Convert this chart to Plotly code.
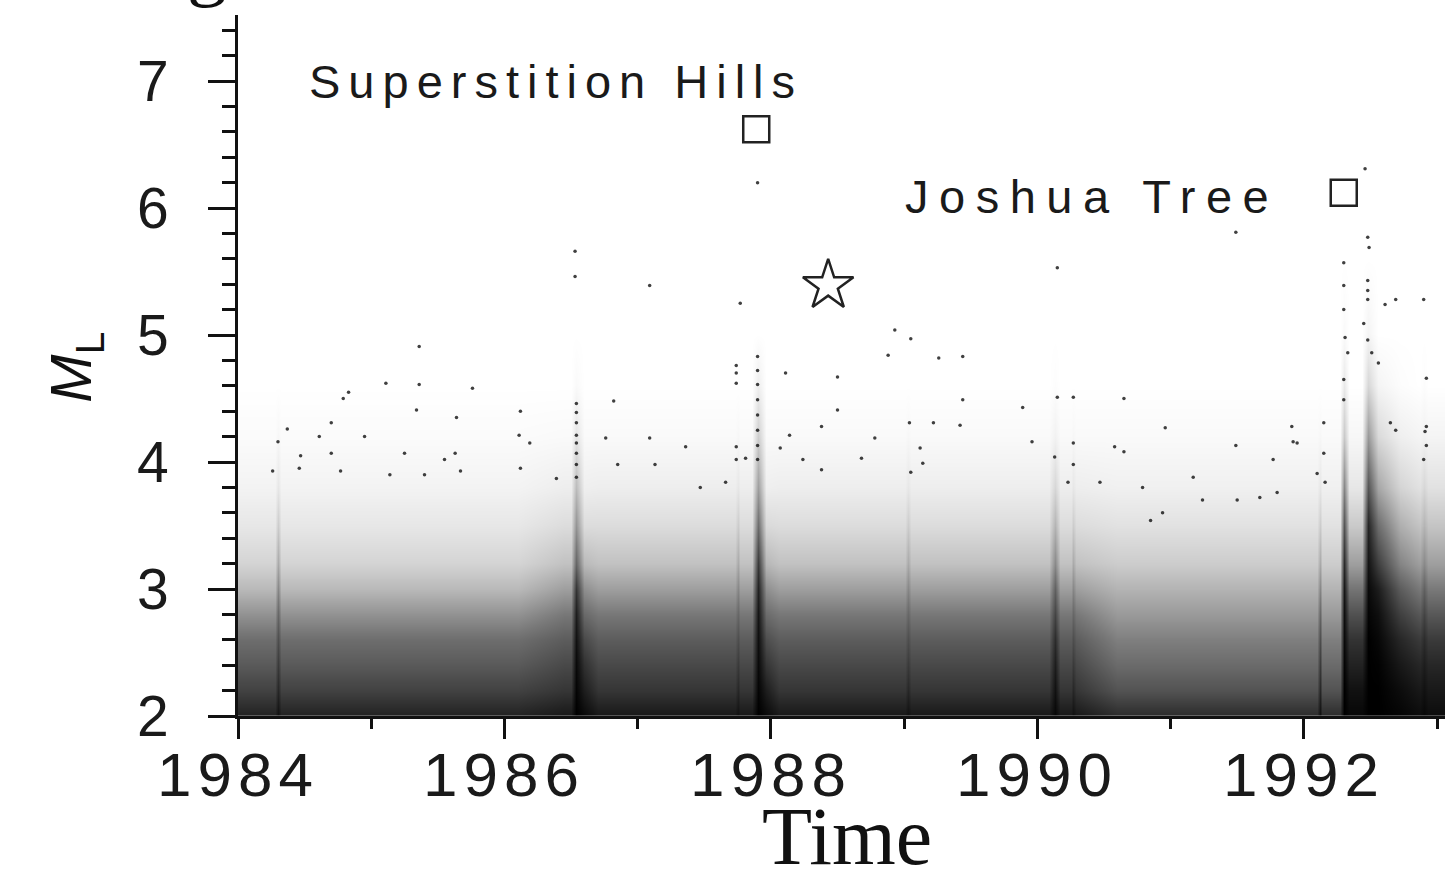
import plotly.graph_objects as go

# ---------------- data ----------------
# magnitude levels (rows of the density map)
mag_levels = [2.0, 2.2, 2.4, 2.6, 2.8, 3.0, 3.2, 3.5, 3.8, 4.2, 4.6, 5.0, 5.6]

# relative darkness of the event cloud (0 = empty, 1 = saturated) per magnitude level
bg_early      = [0.86, 0.73, 0.63, 0.55, 0.41, 0.26, 0.16, 0.09, 0.045, 0.015, 0.0, 0.0, 0.0]
bg_mid        = [0.90, 0.78, 0.70, 0.62, 0.51, 0.36, 0.23, 0.13, 0.065, 0.02, 0.0, 0.0, 0.0]
bg_light      = [0.82, 0.66, 0.56, 0.48, 0.38, 0.28, 0.19, 0.11, 0.055, 0.02, 0.0, 0.0, 0.0]
spike_weak    = [0.93, 0.84, 0.76, 0.68, 0.58, 0.45, 0.32, 0.19, 0.09, 0.03, 0.0, 0.0, 0.0]
spike_medium  = [0.97, 0.93, 0.88, 0.82, 0.72, 0.60, 0.44, 0.28, 0.15, 0.05, 0.01, 0.0, 0.0]
spike_nps     = [1.00, 0.98, 0.96, 0.93, 0.88, 0.78, 0.58, 0.40, 0.25, 0.10, 0.02, 0.0, 0.0]
tail_nps      = [0.96, 0.88, 0.80, 0.70, 0.57, 0.42, 0.26, 0.13, 0.06, 0.02, 0.0, 0.0, 0.0]
spike_sh      = [1.00, 0.98, 0.96, 0.94, 0.91, 0.86, 0.76, 0.55, 0.36, 0.18, 0.06, 0.0, 0.0]
tail_sh       = [0.96, 0.88, 0.78, 0.68, 0.56, 0.42, 0.27, 0.14, 0.06, 0.02, 0.0, 0.0, 0.0]
spike_jt      = [1.00, 1.00, 0.98, 0.96, 0.94, 0.90, 0.82, 0.65, 0.45, 0.20, 0.08, 0.02, 0.0]
tail_jt       = [0.97, 0.93, 0.86, 0.79, 0.67, 0.52, 0.36, 0.20, 0.09, 0.03, 0.0, 0.0, 0.0]
spike_landers = [1.00, 1.00, 1.00, 1.00, 0.98, 0.96, 0.92, 0.85, 0.65, 0.38, 0.15, 0.04, 0.0]
landers_tail1 = [1.00, 1.00, 0.99, 0.97, 0.94, 0.88, 0.74, 0.55, 0.33, 0.14, 0.04, 0.0, 0.0]
landers_tail2 = [0.98, 0.95, 0.90, 0.84, 0.74, 0.62, 0.46, 0.30, 0.16, 0.06, 0.01, 0.0, 0.0]
landers_tail3 = [0.95, 0.90, 0.84, 0.76, 0.64, 0.50, 0.36, 0.22, 0.11, 0.04, 0.0, 0.0, 0.0]

profiles = {
    "bg_early": bg_early, "bg_mid": bg_mid, "bg_light": bg_light,
    "spike_weak": spike_weak, "spike_medium": spike_medium,
    "spike_nps": spike_nps, "tail_nps": tail_nps,
    "spike_sh": spike_sh, "tail_sh": tail_sh,
    "spike_jt": spike_jt, "tail_jt": tail_jt,
    "spike_landers": spike_landers, "landers_tail1": landers_tail1,
    "landers_tail2": landers_tail2, "landers_tail3": landers_tail3,
}

# time columns (decimal year) and the density profile seen at each
col_times = [1984.00, 1984.20, 1984.28, 1984.30, 1984.32, 1984.60, 1985.10, 1985.60,
             1986.10, 1986.45, 1986.50, 1986.54, 1986.60, 1986.70, 1987.10, 1987.50,
             1987.73, 1987.75, 1987.77, 1987.86, 1987.90, 1987.96, 1988.06, 1988.50,
             1989.01, 1989.03, 1989.05, 1989.60, 1990.09, 1990.13, 1990.17, 1990.25,
             1990.27, 1990.29, 1990.60, 1991.20, 1991.80, 1992.10, 1992.12, 1992.14,
             1992.27, 1992.30, 1992.34, 1992.44, 1992.48, 1992.56, 1992.72, 1992.87,
             1992.90, 1992.93, 1993.10]
col_profiles = ["bg_early", "bg_early", "bg_early", "spike_weak", "bg_early", "bg_early", "bg_early", "bg_early",
                "bg_early", "bg_mid", "bg_mid", "spike_nps", "tail_nps", "bg_mid", "bg_mid", "bg_mid",
                "bg_mid", "spike_weak", "bg_mid", "bg_mid", "spike_sh", "tail_sh", "bg_mid", "bg_mid",
                "bg_mid", "spike_weak", "bg_mid", "bg_mid", "bg_mid", "spike_medium", "bg_mid", "bg_mid",
                "spike_weak", "bg_mid", "bg_light", "bg_light", "bg_light", "bg_light", "spike_weak", "bg_light",
                "bg_light", "spike_jt", "tail_jt", "tail_jt", "spike_landers", "landers_tail1", "landers_tail2", "landers_tail3",
                "spike_medium", "landers_tail3", "landers_tail3"]

# individual sparse events above the dense cloud (decimal year, M_L)
sparse_time = [1986.53, 1986.53, 1987.09, 1987.77, 1985.36, 1985.11, 1985.36, 1985.76, 1984.83, 1984.79,
               1985.34, 1985.64, 1986.12, 1986.82, 1984.37, 1984.30, 1984.70, 1984.95, 1984.61, 1984.70,
               1984.47, 1985.25, 1985.63, 1985.55, 1985.67, 1984.46, 1984.26, 1984.77, 1985.14, 1985.40,
               1986.54, 1986.54, 1986.54, 1986.54, 1986.54, 1986.54, 1986.54, 1986.54,
               1986.11, 1986.19, 1986.12, 1986.76, 1987.09, 1987.36, 1987.74, 1987.74, 1987.74, 1987.74,
               1987.74, 1987.81, 1987.66, 1986.85, 1987.13, 1986.39, 1987.47,
               1992.46, 1987.90, 1991.49, 1992.48, 1992.49, 1990.15, 1992.48, 1992.48, 1992.48, 1992.61,
               1992.69, 1992.90, 1988.93, 1989.05, 1988.88, 1989.26, 1989.44,
               1987.90, 1987.90, 1987.90, 1987.90, 1987.90, 1987.90, 1987.90, 1987.90,
               1988.11, 1988.50, 1992.45, 1992.48, 1992.51, 1992.56, 1992.31, 1992.33, 1992.92, 1989.44,
               1990.15, 1990.27, 1990.65, 1988.50, 1988.38, 1989.04, 1989.22, 1989.42, 1989.89, 1990.96,
               1991.92, 1991.91, 1991.49, 1991.77, 1990.58, 1990.65, 1989.96, 1990.27, 1990.13, 1990.27,
               1989.12, 1989.14, 1989.05, 1988.14, 1988.07, 1988.24, 1992.92, 1992.92, 1992.90, 1992.65,
               1992.69, 1988.78, 1988.68, 1988.38, 1991.95, 1992.15, 1992.91, 1991.17, 1990.47, 1990.23,
               1991.80, 1991.67, 1991.50, 1991.24, 1990.79, 1990.94, 1990.85, 1992.15, 1992.16, 1992.10,
               1992.30, 1992.30, 1992.30, 1992.30, 1992.30]
sparse_mag = [5.66, 5.46, 5.39, 5.25, 4.91, 4.62, 4.61, 4.58, 4.55, 4.50,
              4.41, 4.35, 4.40, 4.48, 4.26, 4.16, 4.31, 4.20, 4.20, 4.07,
              4.05, 4.07, 4.07, 4.02, 3.93, 3.95, 3.93, 3.93, 3.90, 3.90,
              4.46, 4.39, 4.31, 4.21, 4.15, 4.07, 3.98, 3.88,
              4.21, 4.15, 3.95, 4.19, 4.19, 4.12, 4.76, 4.70, 4.62, 4.12,
              4.02, 4.03, 3.84, 3.98, 3.98, 3.87, 3.80,
              6.31, 6.20, 5.81, 5.77, 5.69, 5.53, 5.43, 5.35, 5.28, 5.24,
              5.28, 5.28, 5.04, 4.97, 4.84, 4.82, 4.83,
              4.83, 4.72, 4.61, 4.49, 4.37, 4.25, 4.13, 4.02,
              4.70, 4.67, 5.09, 4.96, 4.86, 4.78, 4.98, 4.86, 4.66, 4.49,
              4.51, 4.51, 4.50, 4.41, 4.28, 4.31, 4.31, 4.29, 4.43, 4.27,
              4.16, 4.28, 4.13, 4.02, 4.12, 4.08, 4.16, 4.15, 4.04, 3.98,
              4.11, 3.99, 3.92, 4.21, 4.11, 4.02, 4.28, 4.13, 4.02, 4.31,
              4.25, 4.19, 4.03, 3.94, 4.15, 4.31, 4.24, 3.88, 3.84, 3.84,
              3.76, 3.72, 3.70, 3.70, 3.80, 3.60, 3.54, 4.07, 3.84, 3.91,
              5.57, 5.39, 5.20, 4.65, 4.49]

# labelled mainshocks
mainshock_time = [1987.89, 1992.30]
mainshock_mag = [6.62, 6.12]
mainshock_names = ["Superstition Hills", "Joshua Tree"]
star_time = [1988.43]
star_mag = [5.39]

x_tick_vals = [1984, 1986, 1988, 1990, 1992]
x_minor_vals = [1985, 1987, 1989, 1991, 1993]
y_tick_vals = [2, 3, 4, 5, 6, 7]

# ---------------- figure ----------------
z = [[profiles[name][r] for name in col_profiles] for r in range(len(mag_levels))]

fig = go.Figure()
fig.add_trace(go.Heatmap(
    x=col_times, y=mag_levels, z=z, zmin=0, zmax=1, zsmooth="best",
    colorscale=[[0, "#ffffff"], [0.5, "#7a7a7a"], [1, "#000000"]],
    showscale=False, hoverinfo="skip"))
fig.add_trace(go.Scatter(
    x=sparse_time, y=sparse_mag, mode="markers",
    marker=dict(size=3.5, color="rgba(0,0,0,0.75)", line=dict(width=0)),
    showlegend=False, hoverinfo="skip"))
fig.add_trace(go.Scatter(
    x=mainshock_time, y=mainshock_mag, mode="markers",
    marker=dict(symbol="square-open", size=26, color="#222", line=dict(width=2.5, color="#222")),
    showlegend=False))
fig.add_trace(go.Scatter(
    x=star_time, y=star_mag, mode="markers",
    marker=dict(symbol="star-open", size=38, color="#222", line=dict(width=2.5, color="#222")),
    showlegend=False))

tick_font = "Liberation Sans, Arial, Helvetica, sans-serif"
fig.update_layout(
    width=1445, height=869,
    margin=dict(l=238, r=0, t=15, b=153),
    paper_bgcolor="white", plot_bgcolor="white",
    showlegend=False,
    xaxis=dict(
        range=[1984, 1993.06], showgrid=False, zeroline=False,
        showline=True, linewidth=3, linecolor="#111",
        tickvals=x_tick_vals, showticklabels=False,
        ticks="outside", ticklen=20, tickwidth=2.5, tickcolor="#111",
        minor=dict(tickvals=x_minor_vals, ticks="outside", ticklen=10, tickwidth=2.5,
                   tickcolor="#111", showgrid=False),
    ),
    yaxis=dict(
        range=[2, 7.52], showgrid=False, zeroline=False,
        showline=True, linewidth=3, linecolor="#111",
        tickvals=y_tick_vals,
        ticks="outside", ticklen=27, tickwidth=2.5, tickcolor="#111",
        tickfont=dict(family=tick_font, size=57, color="#1a1a1a"),
        ticklabelstandoff=28,
        minor=dict(dtick=0.2, ticks="outside", ticklen=13, tickwidth=2.5,
                   tickcolor="#111", showgrid=False),
    ),
)

# x tick labels placed just under the ticks
for v in x_tick_vals:
    fig.add_annotation(x=v, y=-0.031, xref="x", yref="paper", xanchor="center", yanchor="top",
                       text='<span style="letter-spacing:6px">%d</span>' % v, showarrow=False,
                       font=dict(family=tick_font, size=62, color="#1a1a1a"))

ann_font = dict(family=tick_font, size=47, color="#1a1a1a")
fig.add_annotation(x=1984.52, y=7.0, xref="x", yref="y", xanchor="left", yanchor="middle",
                   text='<span style="letter-spacing:8px">%s</span>' % mainshock_names[0],
                   showarrow=False, font=ann_font)
fig.add_annotation(x=1988.99, y=6.09, xref="x", yref="y", xanchor="left", yanchor="middle",
                   text='<span style="letter-spacing:10.5px">%s</span>' % mainshock_names[1],
                   showarrow=False, font=ann_font)
# axis titles
fig.add_annotation(x=0.5046, y=-0.172, xref="paper", yref="paper", xanchor="center", yanchor="middle",
                   text="Time", showarrow=False,
                   font=dict(family="Liberation Serif, Times New Roman, serif", size=82, color="#111"))
fig.add_annotation(x=-0.135, y=0.497, xref="paper", yref="paper", xanchor="center", yanchor="middle",
                   text="<i>M</i><sub>L</sub>", textangle=-90, showarrow=False,
                   font=dict(family=tick_font, size=58, color="#111"))
# fragment of the figure label cut off at the top edge
fig.add_annotation(x=-0.0257, y=1.007, xref="paper", yref="paper", xanchor="center", yanchor="bottom",
                   text="g", showarrow=False,
                   font=dict(family="Liberation Serif, Times New Roman, serif", size=80, color="#111"))

fig.write_html("out.html")
